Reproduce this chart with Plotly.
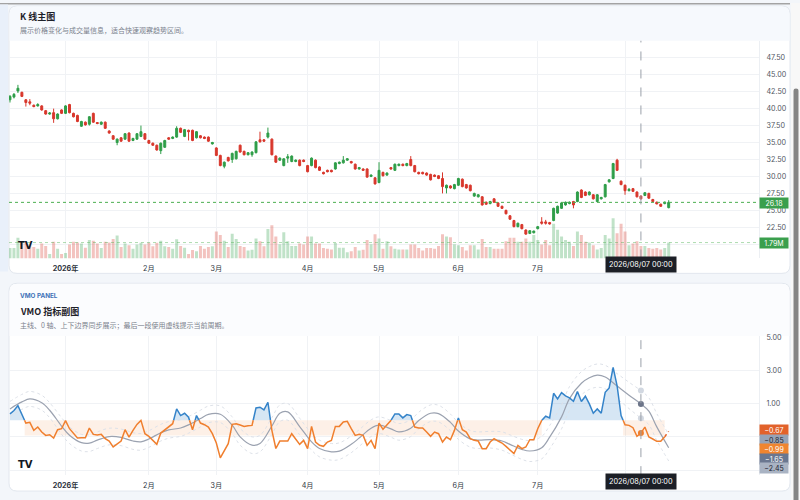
import plotly.graph_objects as go

W, H = 800, 500

# ---- daily bars, index 0..166 (late Dec 2025 .. mid Aug 2026) ----
opens = [41.3, 41.7, 42.6, 42.4, 41.3, 41.0, 40.5, 40.4, 40.4, 39.7,
         39.2, 39.4, 38.5, 39.8, 39.3, 40.6, 39.3, 39.0, 37.4, 38.0,
         37.7, 39.3, 37.95, 37.7, 38.0, 36.7, 36.0, 35.0, 35.7, 35.5,
         36.4, 35.3, 35.5, 35.9, 36.3, 35.3, 34.9, 34.6, 33.8, 34.3,
         35.7, 35.6, 35.8, 37.1, 35.9, 36.8, 36.8, 35.7, 36.0, 35.8,
         35.8, 34.8, 34.2, 33.1, 31.5, 32.8, 32.5, 32.6, 34.6, 33.7,
         33.2, 33.2, 33.5, 35.4, 35.4, 35.8, 35.5, 33.0, 32.4, 31.6,
         32.7, 32.2, 32.2, 32.4, 32.4, 31.6, 31.6, 32.4, 31.4, 30.6,
         30.9, 30.9, 31.1, 31.9, 32.0, 32.4, 32.2, 31.8, 31.1, 31.1,
         31.1, 30.0, 29.8, 29.1, 30.6, 30.2, 31.3, 30.9, 31.6, 31.8,
         31.6, 32.5, 31.6, 30.6, 30.6, 30.5, 30.3, 30.2, 30.1, 29.7,
         28.3, 28.6, 28.2, 28.7, 29.6, 28.8, 28.7, 27.1, 27.0, 27.0,
         26.2, 26.0, 26.7, 26.1, 25.6, 25.0, 24.2, 23.5, 22.6, 22.9,
         22.1, 21.6, 21.7, 22.3, 23.3, 23.3, 23.2, 23.5, 24.6, 25.3,
         25.8, 26.0, 26.3, 26.3, 28.0, 27.7, 27.3, 27.3, 26.3, 26.7,
         27.0, 29.2, 29.7, 32.4, 29.3, 28.7, 27.9, 28.2, 27.7, 27.1,
         27.2, 27.5, 26.6, 26.2, 25.9, 26.0, 25.4]
highs = [42.0, 42.3, 43.5, 42.5, 41.4, 41.4, 40.6, 40.8, 40.5, 39.8,
         39.5, 40.0, 39.3, 39.9, 40.5, 40.7, 39.4, 39.1, 38.2, 38.1,
         38.9, 39.4, 38.0, 38.1, 38.1, 36.8, 36.1, 35.6, 35.8, 36.4,
         36.5, 35.7, 36.4, 37.5, 36.4, 35.4, 35.0, 34.7, 35.0, 35.4,
         35.8, 35.9, 37.4, 37.2, 37.0, 36.9, 36.9, 36.7, 36.1, 35.9,
         35.9, 35.1, 34.3, 33.2, 32.2, 32.9, 33.5, 33.8, 34.7, 33.8,
         33.6, 33.7, 35.2, 36.6, 35.5, 37.2, 35.6, 33.1, 32.8, 32.7,
         33.3, 33.1, 32.5, 32.5, 32.5, 31.7, 32.8, 32.5, 31.5, 30.7,
         31.0, 31.0, 32.1, 32.2, 33.0, 32.7, 32.3, 31.9, 31.4, 31.2,
         31.2, 30.3, 29.9, 32.1, 30.7, 30.6, 31.4, 31.9, 31.9, 31.9,
         32.0, 33.0, 31.7, 30.7, 30.7, 30.6, 30.4, 30.3, 30.2, 30.6,
         28.8, 28.7, 28.9, 29.8, 29.7, 28.9, 28.8, 27.6, 27.4, 27.1,
         26.3, 26.4, 26.8, 26.2, 25.7, 25.1, 24.3, 23.6, 23.2, 23.0,
         22.2, 22.1, 22.0, 22.7, 24.0, 23.6, 23.3, 25.4, 25.7, 26.2,
         26.3, 26.3, 26.4, 27.8, 28.1, 27.8, 27.8, 27.4, 27.4, 27.0,
         28.9, 29.6, 32.0, 32.6, 29.4, 28.8, 28.3, 28.3, 27.8, 27.2,
         27.7, 27.6, 26.7, 26.3, 26.0, 26.3, 26.5]
lows = [40.9, 41.5, 42.3, 41.7, 40.3, 40.5, 40.2, 40.3, 39.7, 39.1,
        39.1, 37.9, 38.4, 39.2, 39.2, 39.3, 38.7, 38.0, 37.3, 37.5,
        37.5, 37.9, 37.7, 37.6, 37.0, 36.3, 35.4, 34.6, 35.1, 35.4,
        35.1, 35.2, 35.4, 35.8, 35.4, 34.8, 34.5, 33.8, 33.3, 34.2,
        35.4, 35.5, 35.7, 36.4, 35.8, 35.3, 35.2, 35.6, 35.6, 35.5,
        35.1, 34.7, 33.0, 31.5, 31.2, 32.2, 32.0, 32.5, 33.5, 33.1,
        33.1, 32.9, 33.4, 35.0, 35.1, 35.6, 33.1, 32.0, 32.3, 31.5,
        32.0, 32.1, 32.1, 31.5, 32.1, 30.6, 31.5, 31.2, 30.8, 30.3,
        30.6, 30.6, 31.0, 31.8, 31.9, 32.3, 31.9, 31.0, 31.0, 30.8,
        29.8, 29.9, 28.8, 29.0, 30.0, 30.1, 31.0, 30.8, 31.5, 31.5,
        31.5, 31.5, 30.6, 30.3, 30.3, 30.1, 29.4, 29.9, 29.6, 27.5,
        27.5, 28.2, 28.1, 28.6, 28.4, 28.2, 27.8, 27.0, 26.9, 25.7,
        25.8, 25.9, 26.1, 25.5, 25.2, 24.4, 23.6, 22.5, 22.5, 22.2,
        21.4, 21.5, 21.6, 22.2, 22.9, 22.9, 22.9, 23.4, 24.5, 25.2,
        25.7, 25.9, 25.3, 26.2, 26.8, 27.1, 27.2, 26.6, 26.2, 26.6,
        26.9, 29.1, 29.6, 30.8, 28.7, 27.3, 27.8, 27.7, 26.9, 26.6,
        27.1, 26.7, 26.2, 25.9, 25.5, 25.9, 25.3]
closes = [41.8, 42.1, 43.0, 41.8, 40.9, 40.8, 40.3, 40.6, 39.8, 39.2,
          39.35, 38.5, 39.2, 39.3, 40.4, 39.4, 38.8, 38.1, 38.1, 37.6,
          38.8, 38.0, 37.8, 38.0, 37.1, 36.4, 35.5, 35.5, 35.2, 36.3,
          35.2, 35.6, 36.3, 36.6, 35.5, 34.9, 34.6, 33.9, 34.9, 35.3,
          35.5, 35.8, 37.1, 36.5, 36.9, 36.6, 35.3, 36.6, 35.7, 35.6,
          35.2, 35.0, 33.1, 31.6, 32.1, 32.3, 33.4, 33.7, 33.6, 33.2,
          33.5, 33.6, 35.1, 35.1, 35.2, 36.4, 33.2, 32.1, 32.7, 32.6,
          32.9, 33.0, 32.4, 31.6, 32.2, 30.7, 32.7, 31.3, 30.9, 30.4,
          30.7, 30.7, 32.0, 32.1, 32.4, 32.6, 32.0, 31.1, 31.3, 30.9,
          29.9, 30.2, 28.9, 30.9, 30.1, 30.5, 31.1, 31.8, 31.8, 31.6,
          31.9, 31.6, 30.7, 30.4, 30.4, 30.2, 29.5, 30.0, 29.7, 28.5,
          28.7, 28.3, 28.8, 29.7, 28.5, 28.3, 27.9, 27.5, 27.3, 25.8,
          25.9, 26.3, 26.2, 25.6, 25.3, 24.5, 23.7, 22.6, 23.1, 22.3,
          21.5, 22.0, 21.95, 22.6, 23.1, 23.1, 23.0, 25.3, 25.6, 26.1,
          26.2, 26.2, 25.8, 27.7, 26.9, 27.2, 27.7, 26.7, 27.3, 26.9,
          28.8, 29.5, 31.9, 30.9, 28.8, 27.9, 28.1, 27.8, 27.0, 26.7,
          27.6, 26.8, 26.3, 25.95, 25.6, 26.2, 26.18]
# volume in millions
volumes = [1.17, 1.17, 2.34, 1.79, 1.79, 1.48, 1.29, 1.09, 1.67, 1.40,
           0.50, 1.87, 1.10, 0.50, 0.60, 1.56, 1.87, 1.80, 1.67, 1.20,
           2.07, 2.00, 1.67, 1.17, 1.87, 1.80, 2.19, 2.57, 1.29, 1.67,
           1.48, 1.10, 1.56, 1.76, 1.56, 1.76, 1.37, 1.76, 2.00, 1.37,
           1.29, 1.10, 2.16, 1.40, 1.20, 0.50, 0.95, 0.80, 1.40, 1.10,
           1.29, 1.37, 3.04, 2.65, 2.00, 1.29, 2.77, 2.18, 1.40, 1.29,
           0.90, 0.97, 2.26, 1.95, 1.36, 3.31, 3.74, 2.46, 1.60, 2.96,
           1.95, 1.40, 1.40, 1.68, 1.56, 2.46, 2.46, 1.68, 1.68, 1.17,
           1.09, 1.01, 1.75, 1.20, 1.20, 0.70, 0.82, 1.29, 0.90, 0.97,
           2.07, 1.60, 2.73, 2.26, 1.09, 1.95, 1.36, 1.09, 1.01, 1.01,
           1.01, 1.56, 1.56, 1.17, 0.90, 1.17, 1.17, 1.09, 1.40, 2.73,
           2.46, 2.38, 1.60, 1.48, 1.29, 0.90, 1.48, 1.48, 1.01, 2.18,
           1.29, 1.29, 1.09, 1.09, 1.09, 1.95, 2.34, 2.34, 1.87, 1.87,
           2.26, 1.87, 2.65, 2.07, 1.56, 2.07, 1.48, 3.90, 3.24, 2.46,
           2.07, 1.87, 1.40, 3.04, 2.65, 1.87, 1.80, 1.48, 1.01, 1.17,
           2.65, 2.26, 4.52, 2.85, 3.90, 3.04, 1.48, 1.68, 1.95, 1.40,
           1.40, 1.17, 1.09, 1.17, 1.01, 1.17, 1.79]

month_ticks = [14, 35, 52, 75, 93, 113, 133, 155]
# 8月 sits under the crosshair time tag, so its label stays hidden
month_labels = ['<b>2026年</b>', '2月', '3月', '4月', '5月', '6月', '7月', '']
price_ticks = [20.0, 22.5, 25.0, 27.5, 30.0, 32.5, 35.0, 37.5, 40.0, 42.5, 45.0, 47.5]

# ---- VMO panel ----
vmo = [0.38, 0.58, 0.88, 0.34, -0.17, -0.13, -0.61, -0.41, -0.71, -0.91,
       -0.87, -1.07, -0.57, -0.51, -0.02, -0.51, -0.81, -1.07, -1.05, -1.05,
       -0.47, -0.85, -0.89, -0.85, -1.11, -1.25, -1.60, -1.45, -1.25, -0.57,
       -1.01, -0.61, -0.25, -0.01, -0.81, -0.97, -1.21, -1.45, -0.77, -0.57,
       -0.41, -0.21, 0.68, 0.28, 0.42, 0.18, -0.57, 0.28, -0.17, -0.27,
       -0.41, -0.81, -1.37, -2.26, -1.81, -1.41, -0.25, -0.21, -0.29, -0.37,
       -0.33, -0.31, 0.74, 0.78, 0.62, 1.08, -0.61, -1.70, -1.25, -1.25,
       -1.25, -0.81, -1.17, -1.45, -1.21, -1.71, -0.37, -1.31, -1.51, -1.57,
       -1.31, -1.21, -0.37, -0.37, -0.11, -0.07, -0.51, -0.91, -0.85, -0.91,
       -1.51, -1.21, -1.71, -0.17, -0.55, -0.31, -0.02, 0.38, 0.38, 0.14,
       0.34, 0.28, -0.41, -0.47, -0.47, -0.71, -0.97, -0.71, -0.81, -1.31,
       -1.01, -1.17, -0.61, 0.14, -0.57, -0.71, -1.11, -1.21, -1.25, -1.71,
       -1.71, -1.31, -1.11, -1.25, -1.37, -1.57, -1.77, -2.00, -1.51, -1.71,
       -1.61, -1.17, -1.17, -0.51, -0.01, 0.24, 0.14, 1.62, 1.28, 1.66,
       1.46, 1.34, 1.14, 1.72, 1.12, 1.44, 0.98, 0.42, 0.68, 0.42,
       1.68, 1.94, 3.17, 2.07, 0.28, -0.27, -0.31, -0.45, -0.97, -0.77,
       -0.41, -1.01, -1.13, -1.27, -1.27, -0.99, -0.67]

sig_idx = [0, 3, 5, 8, 10, 13, 15, 18, 20, 22, 25, 28, 31, 33, 35, 38, 40, 43, 45, 48,
           50, 53, 56, 58, 61, 63, 66, 68, 70, 73, 76, 78, 81, 83, 86, 88, 91, 93, 96, 98,
           101, 103, 106, 108, 111, 113, 116, 118, 121, 124, 126, 129, 131, 134, 136, 139,
           141, 144, 146, 148, 150, 153, 156, 159, 161, 163, 166]
signal = [0.68, 1.10, 1.28, 1.05, 0.60, -0.35, -0.90, -1.35, -1.38, -1.20,
          -0.98, -1.03, -1.25, -1.30, -1.13, -0.75, -0.58, -0.47, -0.28, 0.10,
          0.35, 0.36, -0.30, -1.00, -1.50, -1.40, -0.35, 0.42, 0.50, -0.38,
          -1.30, -1.70, -1.90, -1.86, -1.45, -1.07, -0.48, -0.30, -0.52, -0.70,
          -0.48, -0.02, 0.42, 0.40, -0.13, -0.65, -1.12, -1.20, -1.17, -1.25,
          -1.45, -1.75, -1.85, -1.65, -1.02, 0.20, 1.30, 2.22, 2.55, 2.71,
          2.60, 2.05, 1.50, 0.98, 0.55, -0.40, -1.65]
upper_band = [1.13, 1.55, 1.73, 1.50, 1.05, 0.15, -0.40, -0.85, -0.88, -0.70,
              -0.48, -0.53, -0.75, -0.80, -0.63, -0.25, -0.08, 0.03, 0.22, 0.60,
              0.85, 0.86, 0.20, -0.50, -1.00, -0.90, 0.15, 0.92, 1.00, 0.12,
              -0.80, -1.20, -1.40, -1.36, -0.95, -0.57, 0.02, 0.20, -0.02, -0.20,
              0.02, 0.48, 0.92, 0.90, 0.37, -0.15, -0.62, -0.70, -0.67, -0.70,
              -0.88, -1.15, -1.22, -0.98, -0.32, 0.92, 2.02, 2.92, 3.22, 3.38,
              3.30, 2.80, 2.28, 1.78, 1.35, 0.40, -0.85]
lower_band = [0.23, 0.65, 0.83, 0.60, 0.15, -0.85, -1.40, -1.85, -1.88, -1.70,
              -1.48, -1.53, -1.75, -1.80, -1.63, -1.25, -1.08, -0.97, -0.78, -0.40,
              -0.15, -0.14, -0.80, -1.50, -2.00, -1.90, -0.85, -0.08, 0.00, -0.88,
              -1.80, -2.20, -2.40, -2.36, -1.95, -1.57, -0.98, -0.80, -1.02, -1.20,
              -0.98, -0.52, -0.08, -0.10, -0.63, -1.15, -1.62, -1.70, -1.67, -1.80,
              -2.02, -2.35, -2.48, -2.32, -1.72, -0.52, 0.58, 1.52, 1.85, 1.98,
              1.88, 1.30, 0.70, 0.12, -0.27, -1.22, -2.45]
zone_from = [3.7, 154.5]
zone_to = [134.0, 165.0]
zone_floor = -0.92
vmo_ticks = [5, 3, 1, -1, -3]

crosshair_idx = 159
crosshair_text = '2026/08/07 00:00'

assert len(opens) == len(highs) == len(lows) == len(closes) == len(volumes) == len(vmo) == 167
assert len(sig_idx) == len(signal) == len(upper_band) == len(lower_band)

GREEN, RED = '#2f9e49', '#d8372c'
BLUE_LINE, ORANGE_LINE = '#3483c9', '#f07f2e'
FONT = 'Inter, "Noto Sans CJK SC", sans-serif'
CJK = '"Noto Sans CJK SC", sans-serif'
XR = [-0.25, 188.76]


def px_x(v):
    return v / W


def px_y(v):
    return 1 - v / H


def rounded(x0, y0, x1, y1, r, top=True, bottom=True):
    rx, ry = r / W, r / H
    X0, X1, Y0, Y1 = px_x(x0), px_x(x1), px_y(y0), px_y(y1)
    tx, ty = (rx, ry) if top else (0, 0)
    bx, by = (rx, ry) if bottom else (0, 0)
    return (f'M {X0 + tx},{Y0} L {X1 - tx},{Y0} Q {X1},{Y0} {X1},{Y0 - ty} '
            f'L {X1},{Y1 + by} Q {X1},{Y1} {X1 - bx},{Y1} L {X0 + bx},{Y1} '
            f'Q {X0},{Y1} {X0},{Y1 + by} L {X0},{Y0 - ty} Q {X0},{Y0} {X0 + tx},{Y0} Z')


def split_at_zero(xs, ys):
    ex, ey = [xs[0]], [ys[0]]
    for k in range(1, len(xs)):
        a, b = ys[k - 1], ys[k]
        if a * b < 0:
            t = a / (a - b)
            ex.append(xs[k - 1] + t * (xs[k] - xs[k - 1]))
            ey.append(0.0)
        ex.append(xs[k])
        ey.append(b)
    return ex, ey


idx = list(range(len(closes)))
fig = go.Figure()

# volume (overlay axis)
vol_colors = ['rgba(47,158,73,0.30)' if c >= o else 'rgba(216,55,44,0.30)'
              for o, c in zip(opens, closes)]
fig.add_trace(go.Bar(x=idx, y=volumes, marker=dict(color=vol_colors, line=dict(width=0)),
                     width=0.75, xaxis='x', yaxis='y3'))
fig.add_trace(go.Candlestick(
    x=idx, open=opens, high=highs, low=lows, close=closes, xaxis='x', yaxis='y',
    increasing=dict(line=dict(color=GREEN, width=1), fillcolor=GREEN),
    decreasing=dict(line=dict(color=RED, width=1), fillcolor=RED)))

# VMO panel
for a, b in zip(zone_from, zone_to):
    fig.add_trace(go.Scatter(x=[a, b], y=[zone_floor, zone_floor], mode='none', fill='tozeroy',
                             fillcolor='rgba(246,165,110,0.17)', xaxis='x2', yaxis='y2'))
ex, ey = split_at_zero(idx[:-1], vmo[:-1])
fig.add_trace(go.Scatter(x=ex, y=[max(v, 0) for v in ey], mode='none', fill='tozeroy',
                         fillcolor='rgba(52,131,201,0.20)', xaxis='x2', yaxis='y2'))
for band in (upper_band, lower_band):
    fig.add_trace(go.Scatter(x=sig_idx, y=band, mode='lines', xaxis='x2', yaxis='y2',
                             line=dict(color='#dde1e8', width=1, dash='dot', shape='spline')))
fig.add_trace(go.Scatter(x=sig_idx, y=signal, mode='lines', xaxis='x2', yaxis='y2',
                         line=dict(color='#9ba2b0', width=1.2, shape='spline')))
fig.add_trace(go.Scatter(x=ex, y=[v if v >= 0 else None for v in ey], mode='lines',
                         xaxis='x2', yaxis='y2', line=dict(color=BLUE_LINE, width=1.5)))
fig.add_trace(go.Scatter(x=ex, y=[v if v <= 0 else None for v in ey], mode='lines',
                         xaxis='x2', yaxis='y2', line=dict(color=ORANGE_LINE, width=1.5)))
fig.add_trace(go.Scatter(x=idx[-2:], y=vmo[-2:], mode='lines', xaxis='x2', yaxis='y2',
                         line=dict(color='#e8652b', width=1.5, dash='dot')))
k = sig_idx.index(crosshair_idx)
fig.add_trace(go.Scatter(
    x=[crosshair_idx] * 4, y=[upper_band[k], signal[k], lower_band[k], vmo[crosshair_idx]],
    mode='markers', xaxis='x2', yaxis='y2',
    marker=dict(size=6, color=['#d2d8e1', '#6c7589', '#d2d8e1', ORANGE_LINE])))

xcommon = dict(range=XR, tickvals=month_ticks, ticktext=month_labels, showgrid=True,
               gridcolor='#f0f2f5', zeroline=False, showline=False, ticks='outside',
               ticklen=3, tickcolor='rgba(0,0,0,0)', fixedrange=True,
               tickfont=dict(size=7.2, color='#2e3440'), domain=[px_x(9), px_x(759)])
ycommon = dict(side='right', showgrid=True, gridcolor='#f0f2f5', zeroline=False,
               showline=True, linecolor='#eceff3', ticks='outside', ticklen=5,
               tickcolor='rgba(0,0,0,0)', tickfont=dict(size=7.2, color='#50565f'),
               fixedrange=True)

shapes = [
    dict(type='rect', xref='paper', yref='paper', x0=0, x1=px_x(790), y0=px_y(1.5), y1=1,
         fillcolor='#a3a3a3', line=dict(width=0), layer='below'),
    dict(type='rect', xref='paper', yref='paper', x0=0, x1=px_x(8), y0=px_y(270), y1=px_y(1.5),
         fillcolor='#e9f0fa', line=dict(width=0), layer='below'),
    dict(type='path', path=rounded(9, 3, 790, 272, 8), xref='paper', yref='paper',
         fillcolor='white', line=dict(color='#e2e7ee', width=1), layer='below'),
    dict(type='path', path=rounded(9.5, 3.5, 789.5, 38, 8, bottom=False), xref='paper',
         yref='paper', fillcolor='#f6f9fd', line=dict(width=0), layer='below'),
    dict(type='path', path=rounded(9, 282, 790, 491, 8), xref='paper', yref='paper',
         fillcolor='white', line=dict(color='#e2e7ee', width=1), layer='below'),
    dict(type='path', path=rounded(9.5, 282.5, 789.5, 335, 8, bottom=False), xref='paper',
         yref='paper', fillcolor='#fbfcfe', line=dict(width=0), layer='below'),
    dict(type='rect', xref='paper', yref='paper', x0=px_x(791), x1=1, y0=0, y1=1,
         fillcolor='#f8f8f8', line=dict(width=0), layer='below'),
    dict(type='path', path=rounded(793.5, 86, 798.5, 520, 2.5), xref='paper', yref='paper',
         fillcolor='#858585', line=dict(width=0), layer='above'),
    # last price / last volume lines
    dict(type='line', xref='x domain', x0=0, x1=1, yref='y', y0=closes[-1], y1=closes[-1],
         line=dict(color='#4caf50', width=1, dash='dot')),
    dict(type='line', xref='x domain', x0=0, x1=1, yref='y3', y0=volumes[-1], y1=volumes[-1],
         line=dict(color='rgba(76,175,80,0.45)', width=1, dash='dot')),
    # crosshair
    dict(type='line', xref='x', x0=crosshair_idx, x1=crosshair_idx, yref='y domain', y0=0, y1=1,
         line=dict(color='#9aa0a9', width=1, dash='dash')),
    dict(type='line', xref='x2', x0=crosshair_idx, x1=crosshair_idx, yref='y2 domain', y0=0,
         y1=1, line=dict(color='#9aa0a9', width=1, dash='dash')),
]

ann = []


def text(x, y, s, size, color, bold=False, family=CJK):
    ann.append(dict(xref='paper', yref='paper', x=px_x(x), y=px_y(y), xanchor='left',
                    yanchor='middle', showarrow=False, text=f'<b>{s}</b>' if bold else s,
                    font=dict(size=size, color=color, family=family)))


text(18, 14, 'K 线主图', 9, '#1d2129', bold=True)
text(18, 27.5, '展示价格变化与成交量信息，适合快速观察趋势区间。', 7, '#7b828d')
text(18, 295, 'VMO PANEL', 6.3, '#3f72b8', bold=True, family=FONT)
text(18, 310, 'VMO 指标副图', 9, '#1d2129', bold=True)
text(18, 324, '主线、0 轴、上下边界同步展示；最后一段使用虚线提示当前周期。', 7, '#7b828d')
text(16, 244, 'TV', 10, '#131722', bold=True, family='DejaVu Sans')
text(16, 464, 'TV', 10, '#131722', bold=True, family='DejaVu Sans')


def tag(y_px, s, bg, fg='white'):
    ann.append(dict(xref='paper', yref='paper', x=px_x(759), y=px_y(y_px), xanchor='left',
                    yanchor='middle', showarrow=False, text=s, bgcolor=bg, width=26,
                    height=8, borderpad=1, align='center',
                    font=dict(size=7, color=fg, family=FONT)))


def num(v):
    return f'{v:.2f}'.replace('-', '\u2212')


tag(201, num(closes[-1]), '#3a9f4d')
tag(241, f'{volumes[-1]:.2f}M', '#3a9f4d')
tag(430, num(vmo[-1]), '#e2622b')
tag(439.5, num(upper_band[-1]), '#97a3b6', '#1f2430')
tag(449, num(vmo[-2]), '#f0852f')
tag(458.5, num(signal[-1]), '#6a7790')
tag(468, num(lower_band[-1]), '#a9b3c3', '#1f2430')

for xr, ypx in (('x', 263), ('x2', 481.5)):
    ann.append(dict(xref=xr, yref='paper', x=crosshair_idx, y=px_y(ypx), xanchor='center',
                    yanchor='middle', showarrow=False, text=crosshair_text,
                    bgcolor='#1c1f26', borderpad=3,
                    font=dict(size=7.3, color='white', family=FONT)))

fig.update_layout(
    width=W, height=H, margin=dict(l=0, r=0, t=0, b=0),
    paper_bgcolor='#f3f6fa', plot_bgcolor='rgba(0,0,0,0)',
    showlegend=False, hovermode=False, font=dict(family=FONT),
    xaxis=dict(**xcommon, anchor='y', rangeslider=dict(visible=False)),
    yaxis=dict(**ycommon, anchor='x', domain=[px_y(257), px_y(38)], range=[17.91, 50.0],
               tickvals=price_ticks,
               ticktext=[''] + [f'{v:.2f}' for v in price_ticks[1:]]),
    yaxis3=dict(overlaying='y', anchor='x', range=[0, 24.5], visible=False, fixedrange=True),
    xaxis2=dict(**xcommon, anchor='y2'),
    yaxis2=dict(**ycommon, anchor='x2', domain=[px_y(475), px_y(335)], range=[-3.30, 5.06],
                tickvals=vmo_ticks, ticktext=['5.00', '3.00', '1.00', '', '']),
    shapes=shapes, annotations=ann)

# the page's default body margin would push the 800x500 figure off the window
fig.write_html('out.html', config={'displayModeBar': False},
               post_script="document.body.style.margin='0';document.body.style.overflow='hidden';")
